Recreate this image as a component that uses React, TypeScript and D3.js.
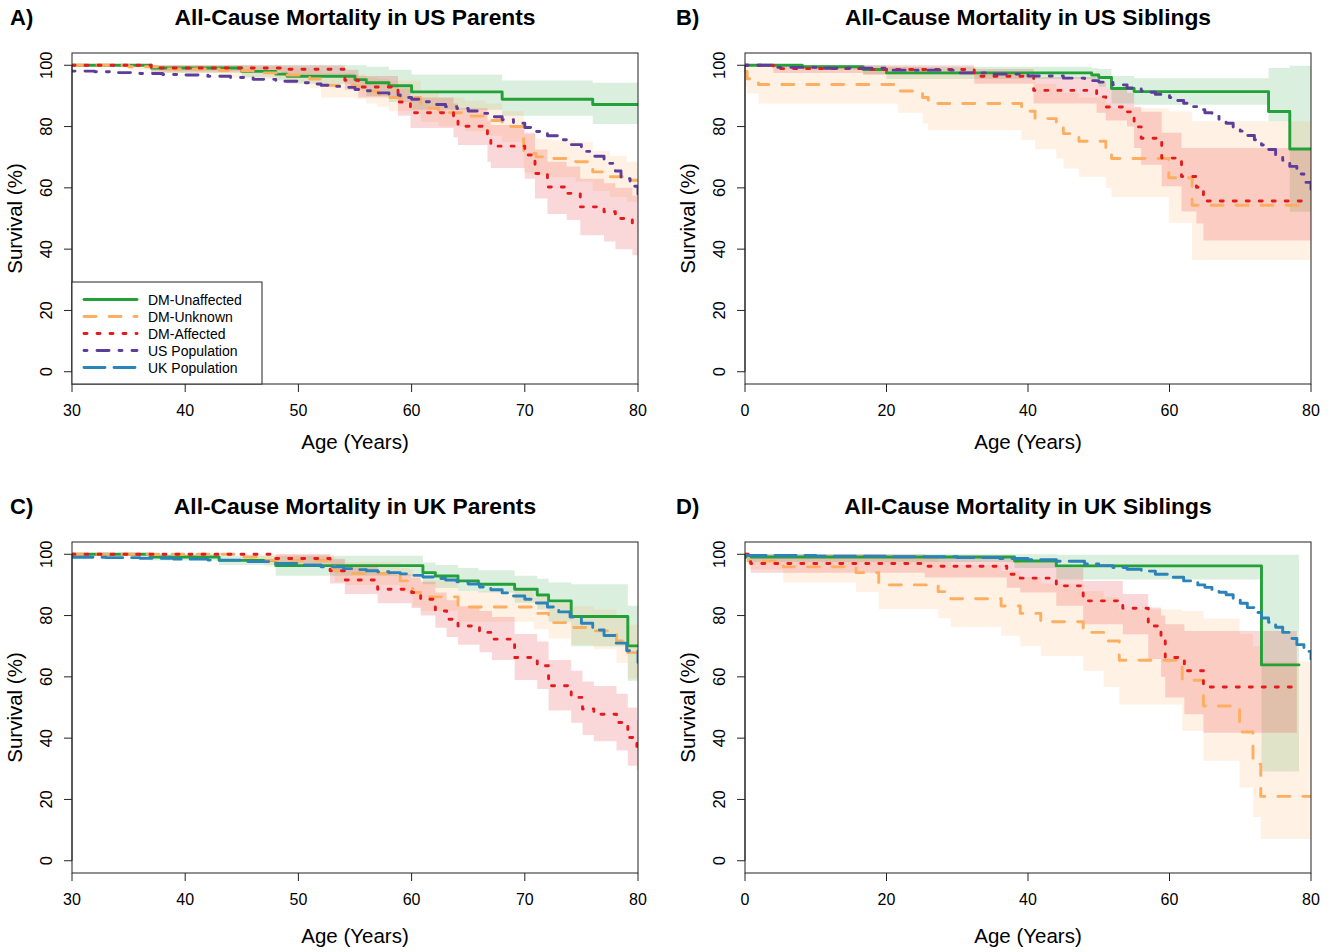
import React from 'react';
import * as d3 from 'd3';

type Row = [number, number, number, number]; // age, survival, lower CI, upper CI
type Pt = [number, number]; // age, survival

// ---- A) US parents ----
const usParUnaffected: Row[] = [
  [30, 100, 100, 100], [37, 99.1, 97.5, 100], [45, 98.0, 96, 100], [48, 97.1, 95, 100],
  [49, 96.4, 94, 100], [55, 95.3, 92, 100], [56, 94.3, 90, 99.5], [58, 93.3, 88, 98.5],
  [60, 91.3, 85.5, 97], [68, 88.9, 83.5, 95], [76, 87.2, 80.8, 94.3], [80, 87.2, 80.8, 94.3],
];
const usParUnknown: Row[] = [
  [30, 100, 100, 100], [35, 99.5, 98.5, 100], [38, 98.8, 97.5, 100], [43, 98.3, 96, 100],
  [46, 97.5, 95.5, 99.5], [49, 96.8, 94.5, 99], [51, 95.5, 92.5, 98.5], [52, 93.5, 89.5, 97.5],
  [55, 93.0, 89, 97], [56, 91.5, 87.5, 96], [57, 90.5, 86.5, 95.5], [58, 89.5, 85, 95],
  [60.8, 86, 81.5, 91], [62.4, 84.5, 80, 89.5], [64.7, 83.4, 78.5, 88.5], [66.5, 82, 77, 87.5],
  [68, 80, 75, 85], [69.9, 71.2, 65, 77.5], [71, 70.1, 64, 76], [72.4, 69.6, 63.5, 75.5],
  [74.5, 68.5, 62, 75], [76, 65.2, 59, 72], [77.5, 63.6, 57, 70.5], [79, 62.5, 55.5, 68.5],
  [80, 62.5, 55.5, 68.5],
];
const usParAffected: Row[] = [
  [30, 100, 100, 100], [37, 99.1, 98, 100], [48.5, 98.7, 97, 100], [54.1, 95.1, 92, 98.5],
  [55.3, 92.9, 89.5, 96.5], [58.8, 88, 83.5, 92.5], [59.9, 84.5, 79.5, 89.5], [63.7, 82, 76.5, 87.5],
  [64.1, 80.1, 74, 86], [66.7, 75.5, 68.5, 82], [67, 73.6, 66.5, 80.5], [70, 70.7, 63, 78],
  [70.9, 64.7, 56.5, 72.5], [72, 60.3, 51.5, 68.5], [73.7, 58.2, 49.5, 67], [74.9, 53.8, 44.5, 63],
  [77, 52.2, 42.5, 61.5], [78, 50, 40, 60], [79.5, 47.8, 38, 57.5], [80, 47.8, 38, 57.5],
];
const usParPop: Pt[] = [
  [30, 98.1], [32, 97.9], [34, 97.6], [36, 97.3], [38, 97.0], [40, 96.8], [42, 96.4], [44, 96.0],
  [46, 95.4], [48, 94.8], [50, 94.3], [51, 93.9], [52, 93.5], [53, 93.1], [54, 92.8], [55, 92.1],
  [56, 91.7], [57, 91.0], [58, 90.3], [59, 89.5], [60, 88.9], [61, 88.1], [62, 87.2], [63, 86.5],
  [64, 85.9], [65, 85.1], [66, 84.3], [67, 83.2], [68, 82.2], [69, 81.1], [70, 79.7], [71, 78.4],
  [72, 77.0], [73, 75.7], [74, 74.1], [75, 71.9], [76, 70.3], [77, 68.0], [78, 65.5], [78.5, 63],
  [79.3, 60.5], [80, 58],
];

// ---- B) US siblings ----
const usSibUnaffected: Row[] = [
  [0, 100, 100, 100], [8.1, 99.5, 98.5, 100], [16.7, 98.6, 97, 100], [20, 97.5, 95.5, 99.5],
  [49, 96.8, 94.5, 99], [50, 96, 93, 98.8], [51.8, 92.4, 87.5, 96.5], [55, 91.4, 87.1, 95.8],
  [74, 84.9, 81.7, 99.1], [77, 72.7, 52.2, 99.8], [80, 72.7, 52.2, 99.8],
];
const usSibUnknown: Row[] = [
  [0, 98, 93, 100], [0.3, 95.6, 90.8, 99.7], [1.9, 93.7, 87.5, 99.7], [21.6, 91.6, 84.5, 99.5],
  [25.1, 89.5, 81, 98.5], [25.9, 87.5, 78.8, 97.5], [39.1, 85, 75.5, 95.5], [41, 82.6, 72.6, 94],
  [44, 80.1, 69.6, 92.5], [45, 77.7, 66.3, 91], [47.2, 75.2, 63.6, 89.5], [51, 72.3, 60, 87.5],
  [51.8, 69.6, 57, 86], [59.9, 63.3, 48.6, 84.9], [63.2, 54.3, 36.5, 81.7], [80, 54.3, 36.5, 81.7],
];
const usSibAffected: Row[] = [
  [0, 100, 100, 100], [4, 98.9, 97.5, 100], [16.7, 98.6, 97, 100], [32.4, 96.4, 94, 98.8],
  [40.8, 91.8, 87.5, 96.2], [49.7, 89.7, 84.5, 94.5], [51, 86.4, 82, 92.9], [54, 84.8, 80, 91],
  [55, 79.9, 73, 86.5], [56, 76.2, 67.5, 84.8], [58.9, 69.7, 60.5, 78], [61.7, 63.7, 52.3, 73],
  [63.8, 60.2, 48.4, 73], [64.8, 55.7, 42.8, 73], [80, 55.7, 42.8, 73],
];
const usSibPop: Pt[] = [
  [0, 100], [4, 99.3], [10, 99.0], [20, 98.4], [30, 97.5], [35, 97.1], [40, 96.5], [45, 95.8],
  [48, 95.0], [50, 94.5], [52, 93.6], [54, 92.6], [56, 91.6], [57, 91.2], [58, 90.5], [60, 89.5],
  [61, 88.5], [62, 87.6], [63, 86.5], [64, 85.5], [65, 84.5], [66, 83.3], [67, 82.3], [68, 81.1],
  [69, 79.8], [70, 78.5], [71, 77.1], [72, 75.7], [73, 74.0], [74, 72.5], [75, 70.7], [76, 69.0],
  [77, 67.0], [78, 64.5], [79, 61.8], [80, 58.6],
];

// ---- C) UK parents ----
const ukParUnaffected: Row[] = [
  [30, 100, 100, 100], [36.9, 99.1, 98, 100], [43, 98, 96.5, 99.5], [48, 96.3, 93, 99.5],
  [61, 94, 90.2, 97.3], [62.1, 92.9, 89, 96.5], [64.1, 91.3, 88, 95.5], [65.9, 90.2, 87.5, 94.8],
  [69.1, 88.6, 84.2, 93], [71.1, 86.7, 82, 92], [72.1, 84.8, 78, 90.8], [74.1, 79.7, 70, 90.2],
  [79.1, 70.1, 58.7, 83.2], [80, 70.1, 58.7, 83.2],
];
const ukParUnknown: Row[] = [
  [30, 100, 100, 100], [44.9, 99.1, 98, 100], [47, 98, 96, 100], [53.2, 94.6, 91, 98],
  [54.2, 93.7, 90, 97.5], [59, 91.3, 87.5, 95.5], [59.8, 90.4, 86.5, 95], [60.1, 87.5, 83, 92.5],
  [60.8, 86.1, 81.5, 91.5], [64.1, 82.8, 78, 88], [70.8, 80.7, 75.5, 86], [72.1, 77.7, 72.5, 84],
  [74.1, 76.1, 70.5, 83], [76.1, 75, 69, 82], [78.1, 71.7, 64.5, 80], [79.1, 67.9, 59.5, 77],
  [80, 67.9, 59.5, 77],
];
const ukParAffected: Row[] = [
  [30, 100, 100, 100], [48, 98.6, 97, 100], [52.8, 94.6, 90.5, 98.5], [54.1, 91.6, 87, 96.5],
  [57, 88.6, 84, 93.5], [60, 87.5, 82.5, 92.5], [60.8, 85.3, 80, 91], [62.1, 81.5, 76, 87.5],
  [63.1, 78.8, 73, 85], [64.1, 76.6, 70.5, 83], [66, 74.5, 68, 81.5], [67.1, 72.3, 65.5, 79.5],
  [69.1, 66.3, 59, 74], [71.1, 63.6, 56, 71.5], [72.1, 57.1, 49, 65.5], [74.1, 53.3, 45, 62],
  [75.1, 49.5, 41, 58.5], [76.1, 47.8, 39, 57], [78.1, 45.1, 36, 54.5], [79.1, 40.2, 31, 50],
  [79.9, 35.3, 29.5, 46], [80, 35.3, 29.5, 46],
];
const ukParPop: Pt[] = [
  [30, 99.0], [33, 98.9], [36, 98.7], [39, 98.4], [42, 98.1], [45, 97.6], [48, 97.0], [50, 96.5],
  [52, 95.9], [54, 95.3], [55, 95.0], [56, 94.6], [57, 94.3], [58, 94.0], [59, 93.6], [60, 93.1],
  [61, 92.6], [62, 92.1], [63, 91.6], [64, 91.0], [65, 90.3], [66, 89.3], [67, 88.4], [68, 87.4],
  [69, 86.4], [70, 85.3], [71, 84.1], [72, 82.8], [73, 81.2], [74, 79.5], [75, 77.5], [76, 75.3],
  [77, 73.5], [78, 71.0], [79, 68.5], [80, 64.7],
];

// ---- D) UK siblings ----
const ukSibUnaffected: Row[] = [
  [0, 99.1, 97.5, 100], [38.1, 97.8, 95.5, 100], [44, 96.2, 91.8, 99.8], [73, 63.9, 29.1, 99.8],
  [78.3, 63.9, 29.1, 99.8],
];
const ukSibUnknown: Row[] = [
  [0, 100, 100, 100], [0.5, 97.8, 95, 100], [5.4, 95.9, 90.8, 100], [15.7, 94, 87.7, 100],
  [18.9, 90, 82.1, 99], [27.3, 87.8, 79.1, 97.5], [29.1, 85.5, 76.3, 96.5], [36.2, 83.1, 73.4, 94.5],
  [38.9, 80.7, 70.1, 92.5], [41.8, 78, 66.8, 90.5], [47.8, 74.5, 62, 88], [50.7, 71.7, 56.7, 86],
  [52.9, 65.4, 51, 82], [61.8, 58.9, 42.4, 81.5], [64.8, 50.5, 32.6, 79], [69.9, 42, 23.9, 74],
  [71.8, 31.5, 14.3, 70], [72.9, 21, 7.1, 65], [80, 21, 7.1, 65],
];
const ukSibAffected: Row[] = [
  [0, 100, 100, 100], [0.8, 97, 94, 100], [25.4, 96.1, 92.4, 99.5], [37, 93.5, 89.1, 98.5],
  [38.9, 92.2, 87.5, 97.3], [44, 89.7, 83.2, 95.6], [47.8, 84.8, 77.2, 91.3], [53.4, 82.4, 73.9, 87],
  [57, 76.6, 65.8, 82.6], [58.8, 72.8, 60, 80], [59.4, 66.3, 53.3, 77.2], [62.1, 62, 47.8, 75],
  [64.8, 56.7, 41.8, 75], [78, 56.7, 41.8, 75],
];
const ukSibPop: Pt[] = [
  [0, 99.6], [10, 99.4], [20, 99.2], [30, 98.9], [36, 98.6], [40, 98.2], [44, 97.7], [48, 96.8],
  [50, 96.3], [52, 95.7], [54, 95.1], [56, 94.5], [58, 93.5], [60, 92.5], [62, 91.3], [64, 90.0],
  [65, 89.2], [66, 88.4], [67, 87.6], [68, 86.8], [69, 85.4], [70, 84.0], [71, 82.6], [72, 81.0],
  [73, 79.2], [74, 77.8], [75, 76.2], [76, 74.5], [77, 72.5], [78, 70.5], [79, 68.3], [80, 65.8],
];

const seriesNames = ['DM-Unaffected', 'DM-Unknown', 'DM-Affected', 'US Population', 'UK Population'];
const seriesColors = ['#24A039', '#FDAE61', '#E41A1C', '#5E3C99', '#2B83BA'];
const seriesDash = ['', '12 13', '3 10', '3 10 12 10', '21 9'];

const parentTicks = [30, 40, 50, 60, 70, 80];
const siblingTicks = [0, 20, 40, 60, 80];
const survTicks = [0, 20, 40, 60, 80, 100];

const panels = [
  { tag: 'A)', title: 'All-Cause Mortality in US Parents', ticks: parentTicks, groups: [usParUnaffected, usParUnknown, usParAffected], pop: usParPop, popIdx: 3 },
  { tag: 'B)', title: 'All-Cause Mortality in US Siblings', ticks: siblingTicks, groups: [usSibUnaffected, usSibUnknown, usSibAffected], pop: usSibPop, popIdx: 3 },
  { tag: 'C)', title: 'All-Cause Mortality in UK Parents', ticks: parentTicks, groups: [ukParUnaffected, ukParUnknown, ukParAffected], pop: ukParPop, popIdx: 4 },
  { tag: 'D)', title: 'All-Cause Mortality in UK Siblings', ticks: siblingTicks, groups: [ukSibUnaffected, ukSibUnknown, ukSibAffected], pop: ukSibPop, popIdx: 4 },
];

const W = 1340;
const H = 952;
const BOX_W = 566;
const BOX_H = 331;
const boxLefts = [72, 745];
const boxTops = [53, 542];
const FONT = "'Liberation Sans', Arial, Helvetica, sans-serif";

const Panel = ({ i }: { i: number }) => {
  const p = panels[i];
  const row = Math.floor(i / 2);
  const left = boxLefts[i % 2];
  const top = boxTops[row];
  const bottom = top + BOX_H;
  const x = d3.scaleLinear().domain(d3.extent(p.ticks) as [number, number]).range([left, left + BOX_W]);
  const y = d3.scaleLinear().domain([-4, 104]).range([bottom, top]);

  const band = d3.area<Row>().x(d => x(d[0])).y0(d => y(d[2])).y1(d => y(d[3])).curve(d3.curveStepAfter);
  const line = d3.line<Row>().x(d => x(d[0])).y(d => y(d[1])).curve(d3.curveStepAfter);
  const popLine = d3.line<Pt>().x(d => x(d[0])).y(d => y(d[1])).curve(d3.curveStepAfter);
  const clipId = `clip${i}`;

  return (
    <g>
      <defs>
        <clipPath id={clipId}>
          <rect x={left} y={top} width={BOX_W} height={BOX_H} />
        </clipPath>
      </defs>
      <text x={i % 2 ? 676 : 10} y={top - 28} fontSize={22} fontWeight="bold">{p.tag}</text>
      <text x={left + BOX_W / 2} y={top - 28} fontSize={22.8} fontWeight="bold" textAnchor="middle">{p.title}</text>

      <g clipPath={`url(#${clipId})`}>
        {p.groups.map((g, k) => (
          <path key={'b' + k} d={band(g) || ''} fill={seriesColors[k]} fillOpacity={0.17} stroke="none" />
        ))}
        {p.groups.map((g, k) => (
          <path key={'l' + k} d={line(g) || ''} fill="none" stroke={seriesColors[k]} strokeWidth={2.9}
            strokeDasharray={seriesDash[k] || undefined} strokeLinecap="round" strokeLinejoin="round" />
        ))}
        <path d={popLine(p.pop) || ''} fill="none" stroke={seriesColors[p.popIdx]} strokeWidth={2.9}
          strokeDasharray={seriesDash[p.popIdx]} strokeLinecap="round" strokeLinejoin="round" />
      </g>

      <rect x={left} y={top} width={BOX_W} height={BOX_H} fill="none" stroke="#222" strokeWidth={1} />

      {/* x axis */}
      {p.ticks.map(t => (
        <g key={'xt' + t}>
          <line x1={x(t)} x2={x(t)} y1={bottom} y2={bottom + 8} stroke="#222" />
          <text x={x(t)} y={bottom + 32} fontSize={16} textAnchor="middle">{t}</text>
        </g>
      ))}
      <text x={left + BOX_W / 2} y={bottom + 65 + row * 5} fontSize={20.5} textAnchor="middle">Age (Years)</text>

      {/* y axis */}
      <line x1={left} x2={left} y1={y(0)} y2={y(100)} stroke="#222" />
      {survTicks.map(t => (
        <g key={'yt' + t}>
          <line x1={left - 8} x2={left} y1={y(t)} y2={y(t)} stroke="#222" />
          <text transform={`translate(${left - 20},${y(t)}) rotate(-90)`} fontSize={16.5} textAnchor="middle">{t}</text>
        </g>
      ))}
      <text transform={`translate(${left - 50},${(top + bottom) / 2}) rotate(-90)`} fontSize={20.5} textAnchor="middle">Survival (%)</text>

      {i === 0 && <Legend left={left} bottom={bottom} />}
    </g>
  );
};

const Legend = ({ left, bottom }: { left: number; bottom: number }) => {
  const top = bottom - 102;
  const rowY = d3.scaleLinear().domain([0, 4]).range([top + 17.5, top + 85.5]);
  return (
    <g>
      <rect x={left} y={top} width={190} height={102} fill="white" stroke="#222" strokeWidth={1} />
      {seriesNames.map((name, k) => (
        <g key={name}>
          <line x1={left + 12} x2={left + 65} y1={rowY(k)} y2={rowY(k)} stroke={seriesColors[k]} strokeWidth={2.9}
            strokeDasharray={seriesDash[k] || undefined} strokeLinecap="round" />
          <text x={left + 76} y={rowY(k) + 5} fontSize={14}>{name}</text>
        </g>
      ))}
    </g>
  );
};

export default function App() {
  return (
    <svg width={W} height={H} style={{ display: 'block', position: 'absolute', left: 0, top: 0, background: 'white' }}
      fontFamily={FONT}>
      <rect width={W} height={H} fill="white" />
      {panels.map((_, i) => <Panel key={i} i={i} />)}
    </svg>
  );
}
